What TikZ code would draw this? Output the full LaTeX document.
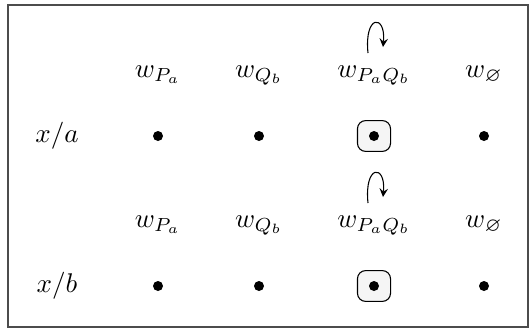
\documentclass[tikz,border=0pt]{standalone}
\usepackage{amsmath}
\usepackage{amssymb}
\usepackage{tikz}
\usepackage{xcolor}

\begin{document}
\begin{tikzpicture}[x=0.013cm, y=0.013cm,  dot/.style={circle, fill, inner sep=0pt, minimum size=0.13cm},  selbox/.style={draw, rounded corners=3pt, fill=gray!8, minimum width=0.43cm, minimum height=0.40cm},  world/.style={anchor=base},  loop arrow/.style={->, >=stealth}]
  \useasboundingbox (0,0) rectangle (529,331);
  \draw[black!70, line width=0.6pt] (8,4) rectangle (528,326);

  % upper block: x/a
  \node[world] (xa) at (57,189) {$x/a$};
  \node[world] (wPa1) at (158,254) {$w_{P_a}$};
  \node[world] (wQb1) at (259,254) {$w_{Q_b}$};
  \node[world] (wPQ1) at (374,254) {$w_{P_aQ_b}$};
  \node[world] (wE1) at (484,254) {$w_{\varnothing}$};
  \node[dot] (da1) at (158,195) {};
  \node[dot] (da2) at (259,195) {};
  \node[selbox] (sa) at (374,195) {};
  \node[dot] (da3) at (374,195) {};
  \node[dot] (da4) at (484,195) {};
  \coordinate (lp1a) at (368,278);
  \coordinate (lp1b) at (383,284);
  \draw[loop arrow] (lp1a) .. controls +(-4,39) and +(3,33) .. (lp1b);

  % lower block: x/b
  \node[world] (xb) at (57,39) {$x/b$};
  \node[world] (wPa2) at (158,104) {$w_{P_a}$};
  \node[world] (wQb2) at (259,104) {$w_{Q_b}$};
  \node[world] (wPQ2) at (374,104) {$w_{P_aQ_b}$};
  \node[world] (wE2) at (484,104) {$w_{\varnothing}$};
  \node[dot] (db1) at (158,45) {};
  \node[dot] (db2) at (259,45) {};
  \node[selbox] (sb) at (374,45) {};
  \node[dot] (db3) at (374,45) {};
  \node[dot] (db4) at (484,45) {};
  \coordinate (lp2a) at (368,128);
  \coordinate (lp2b) at (383,134);
  \draw[loop arrow] (lp2a) .. controls +(-4,39) and +(3,33) .. (lp2b);

\end{tikzpicture}
\end{document}
